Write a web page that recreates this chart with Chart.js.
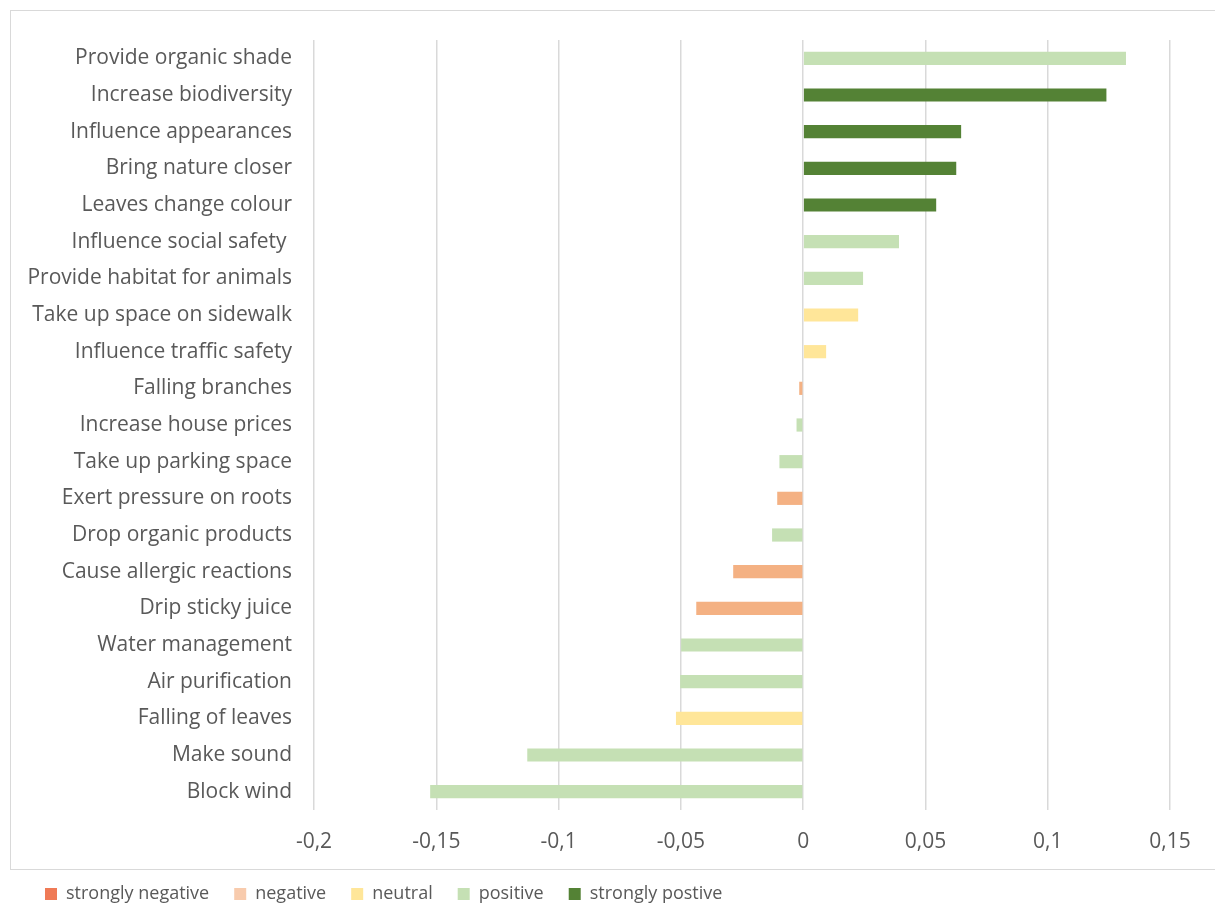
<!DOCTYPE html>
<html>
<head>
<meta charset="utf-8">
<script src="https://cdn.jsdelivr.net/npm/chart.js@4"></script>
<style>
  html, body { margin: 0; padding: 0; background: #fff; }
  #wrap { width: 1215px; height: 905px; position: relative; }
</style>
</head>
<body>
<div id="wrap"><canvas id="canvas" width="1215" height="905"></canvas></div>
<script>
// categorias de arriba hacia abajo
const categorias = [
  "Provide organic shade", "Increase biodiversity", "Influence appearances",
  "Bring nature closer", "Leaves change colour", "Influence social safety ",
  "Provide habitat for animals", "Take up space on sidewalk", "Influence traffic safety",
  "Falling branches", "Increase house prices", "Take up parking space",
  "Exert pressure on roots", "Drop organic products", "Cause allergic reactions",
  "Drip sticky juice", "Water management", "Air purification",
  "Falling of leaves", "Make sound", "Block wind"
];
const valores = [
  0.132, 0.124, 0.0646, 0.0626, 0.0544, 0.0392, 0.0245, 0.0225, 0.0094,
  -0.0016, -0.0027, -0.0097, -0.0106, -0.0127, -0.0286, -0.0437,
  -0.0499, -0.0503, -0.052, -0.1128, -0.1525
];
// tipo de cada barra (indice en tipos)
const tipoBarra = [3, 4, 4, 4, 4, 3, 3, 2, 2, 1, 3, 3, 1, 3, 1, 1, 3, 3, 2, 3, 3];
const tipos = ["strongly negative", "negative", "neutral", "positive", "strongly postive"];
const coloresBarra = ["#ED7D58", "#F4B183", "#FFE699", "#C5E0B4", "#548235"];
const coloresLeyenda = ["#EF7A56", "#F8CBAD", "#FFE699", "#C5E0B4", "#548235"];
const ticksX = [-0.2, -0.15, -0.1, -0.05, 0, 0.05, 0.1, 0.15];

// un dataset por tipo, con null donde no corresponde
const datasets = tipos.map((t, k) => ({
  label: t,
  data: valores.map((v, i) => tipoBarra[i] === k ? v : null),
  backgroundColor: coloresBarra[k],
  barPercentage: 0.36,
  categoryPercentage: 1
}));

const marco = {
  id: 'marco',
  beforeDraw(chart) {
    const ctx = chart.ctx;
    ctx.save();
    ctx.fillStyle = '#fff';
    ctx.fillRect(0, 0, chart.width, chart.height);
    ctx.strokeStyle = '#d9d9d9';
    ctx.lineWidth = 1;
    ctx.strokeRect(10.5, 10.5, 1215, 859);
    ctx.restore();
  }
};

const fuente = "'Open Sans', sans-serif";

new Chart(document.getElementById('canvas'), {
  type: 'bar',
  data: { labels: categorias, datasets: datasets },
  plugins: [marco],
  options: {
    indexAxis: 'y',
    responsive: false,
    animation: false,
    layout: { padding: { left: 20, right: 45, top: 40, bottom: -8 } },
    scales: {
      y: {
        stacked: true,
        grid: { display: false, drawTicks: false },
        border: { display: false },
        ticks: { color: '#595959', font: { family: fuente, size: 21 }, padding: 22 },
        afterFit: s => { s.width = 294; }
      },
      x: {
        stacked: true,
        min: -0.2, max: 0.15,
        afterBuildTicks: s => { s.ticks = ticksX.map(v => ({ value: v })); },
        grid: { color: '#d9d9d9', lineWidth: 1.5, drawTicks: false },
        border: { display: false },
        ticks: {
          color: '#595959', font: { family: fuente, size: 21 }, padding: 19,
          callback: v => String(Math.round(v * 100) / 100).replace('.', ',')
        },
        afterFit: s => { s.height = 50; }
      }
    },
    plugins: {
      tooltip: { enabled: false },
      legend: {
        position: 'bottom',
        align: 'start',
        labels: {
          color: '#595959', font: { family: fuente, size: 18 },
          boxWidth: 12, boxHeight: 12, padding: 25,
          generateLabels: chart => tipos.map((t, k) => ({
            text: t, fillStyle: coloresLeyenda[k], strokeStyle: coloresLeyenda[k],
            lineWidth: 0, datasetIndex: k, fontColor: '#595959'
          }))
        }
      }
    }
  }
});
</script>
</body>
</html>
